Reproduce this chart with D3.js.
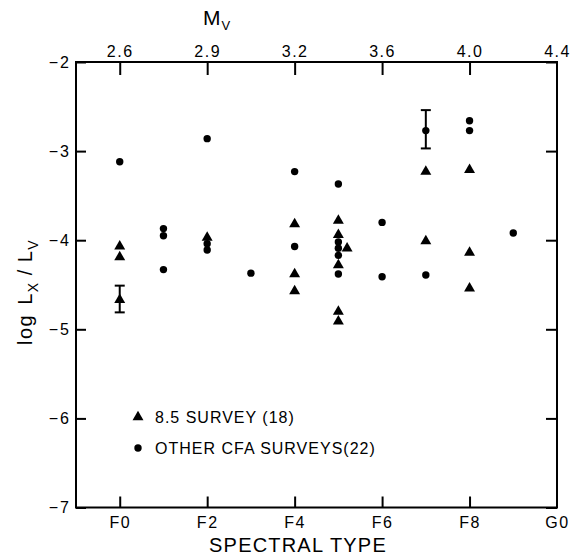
<!DOCTYPE html>
<html>
<head>
<meta charset="utf-8">
<script src="https://cdn.jsdelivr.net/npm/d3@7"></script>
<style>
  html, body { margin: 0; padding: 0; background: #fff; }
  svg { display: block; font-family: "Liberation Sans", Arial, Helvetica, sans-serif; }
</style>
</head>
<body>
<svg id="chart" width="575" height="556"></svg>
<script>
// ---- data (spectral subclass: F0 = 0 ... G0 = 10) ----
const spectralTicks = [0, 2, 4, 6, 8, 10];
const spectralLabels = ["F0", "F2", "F4", "F6", "F8", "G0"];
const mvLabels = ["2.6", "2.9", "3.2", "3.6", "4.0", "4.4"];
const yTicks = [-2, -3, -4, -5, -6, -7];

// 8.5 survey (triangles, 18)
const triType = [0, 0, 0, 2, 4, 4, 4, 5, 5, 5, 5, 5, 5.2, 7, 7, 8, 8, 8];
const triLog  = [-4.07, -4.19, -4.67, -3.97, -3.82, -4.38, -4.57, -3.78, -3.94, -4.28, -4.80, -4.91, -4.09, -3.23, -4.01, -3.21, -4.14, -4.54];

// other CfA surveys (circles, 22)
const circType = [0, 1, 1, 1, 2, 2, 2, 3, 4, 4, 5, 5, 5, 5, 5, 6, 6, 7, 7, 8, 8, 9];
const circLog  = [-3.12, -3.87, -3.95, -4.33, -2.86, -4.04, -4.11, -4.37, -3.23, -4.07, -3.37, -4.02, -4.09, -4.17, -4.38, -3.80, -4.41, -2.77, -4.39, -2.66, -2.77, -3.92];

// error bars
const errType = [0, 7];
const errLo   = [-4.81, -2.97];
const errHi   = [-4.51, -2.54];

const legendLabels = ["8.5 SURVEY (18)", "OTHER CFA SURVEYS(22)"];

// ---- layout ----
const svg = d3.select("#chart");
const mLeft = 76, mRight = 557, mTop = 62, mBottom = 507.5;

const x = d3.scaleLinear().domain([-1, 10]).range([mLeft, mRight]);
const y = d3.scaleLinear().domain([-7, -2]).range([mBottom, mTop]);

const fmtMinus = d => String(d).replace("-", "\u2212");

// frame
svg.append("rect")
  .attr("x", mLeft).attr("y", mTop)
  .attr("width", mRight - mLeft).attr("height", mBottom - mTop)
  .attr("fill", "none").attr("stroke", "#000").attr("stroke-width", 2);

// bottom axis (ticks inward)
const xb = svg.append("g").attr("transform", `translate(0,${mBottom})`)
  .call(d3.axisBottom(x).tickValues(spectralTicks)
    .tickFormat((d, i) => spectralLabels[i]).tickSize(-11).tickPadding(9));
xb.select(".domain").remove();
xb.selectAll("line").attr("stroke-width", 2).filter(d => d === 10).remove();
xb.selectAll("text").attr("font-size", 16).attr("letter-spacing", 1.5).attr("fill", "#000");

// top axis Mv
const xt = svg.append("g").attr("transform", `translate(0,${mTop})`)
  .call(d3.axisTop(x).tickValues(spectralTicks)
    .tickFormat((d, i) => mvLabels[i]).tickSize(-13).tickPadding(5));
xt.select(".domain").remove();
xt.selectAll("line").attr("stroke-width", 2).filter(d => d === 10).remove();
xt.selectAll("text").attr("font-size", 16).attr("letter-spacing", 1.5).attr("fill", "#000");

// left axis
const yl = svg.append("g").attr("transform", `translate(${mLeft},0)`)
  .call(d3.axisLeft(y).tickValues(yTicks).tickFormat(fmtMinus).tickSize(-10).tickPadding(5));
yl.select(".domain").remove();
yl.selectAll("line").attr("stroke-width", 2);
yl.selectAll("text").attr("font-size", 16).attr("letter-spacing", 2).attr("fill", "#000");

// right axis (ticks only)
const yr = svg.append("g").attr("transform", `translate(${mRight},0)`)
  .call(d3.axisRight(y).tickValues(yTicks).tickFormat("").tickSize(-11));
yr.select(".domain").remove();
yr.selectAll("line").attr("stroke-width", 2);

// axis titles
svg.append("text")
  .attr("x", 298).attr("y", 552)
  .attr("text-anchor", "middle")
  .attr("font-size", 20).attr("letter-spacing", 1.2)
  .text("SPECTRAL TYPE");

const mv = svg.append("text").attr("x", 203).attr("y", 25).attr("font-size", 21);
mv.append("tspan").text("M");
mv.append("tspan").attr("font-size", 13).attr("dy", 5).attr("dx", 1).text("V");

const yt = svg.append("text")
  .attr("transform", "translate(32,345) rotate(-90)")
  .attr("font-size", 20).attr("letter-spacing", 1.5);
yt.append("tspan").text("log");
yt.append("tspan").attr("dx", 9).text("L");
yt.append("tspan").attr("font-size", 14).attr("dy", 6).text("X");
yt.append("tspan").attr("dy", -6).attr("dx", 6).text("/");
yt.append("tspan").attr("dx", 6).text("L");
yt.append("tspan").attr("font-size", 14).attr("dy", 6).text("V");

// error bars
const eg = svg.append("g").attr("stroke", "#000").attr("stroke-width", 2);
errType.forEach((t, i) => {
  const cx = x(t);
  eg.append("line").attr("x1", cx).attr("x2", cx).attr("y1", y(errLo[i])).attr("y2", y(errHi[i]));
  eg.append("line").attr("x1", cx - 5).attr("x2", cx + 5).attr("y1", y(errLo[i])).attr("y2", y(errLo[i]));
  eg.append("line").attr("x1", cx - 5).attr("x2", cx + 5).attr("y1", y(errHi[i])).attr("y2", y(errHi[i]));
});

// circles
svg.append("g").selectAll("circle")
  .data(circType.map((t, i) => [t, circLog[i]]))
  .join("circle")
  .attr("cx", d => x(d[0])).attr("cy", d => y(d[1]))
  .attr("r", 3.7).attr("fill", "#000");

// triangles
const tri = d3.symbol().type(d3.symbolTriangle).size(52);
svg.append("g").selectAll("path")
  .data(triType.map((t, i) => [t, triLog[i]]))
  .join("path")
  .attr("d", tri)
  .attr("transform", d => `translate(${x(d[0])},${y(d[1])})`)
  .attr("fill", "#000");

// legend
const lg = svg.append("g");
lg.append("path").attr("d", tri).attr("transform", "translate(138,417)").attr("fill", "#000");
lg.append("circle").attr("cx", 138).attr("cy", 448).attr("r", 3.7).attr("fill", "#000");
lg.append("text").attr("x", 155).attr("y", 423).attr("font-size", 16).attr("letter-spacing", 1).text(legendLabels[0]);
lg.append("text").attr("x", 155).attr("y", 454).attr("font-size", 16).attr("letter-spacing", 1).text(legendLabels[1]);
</script>
</body>
</html>
